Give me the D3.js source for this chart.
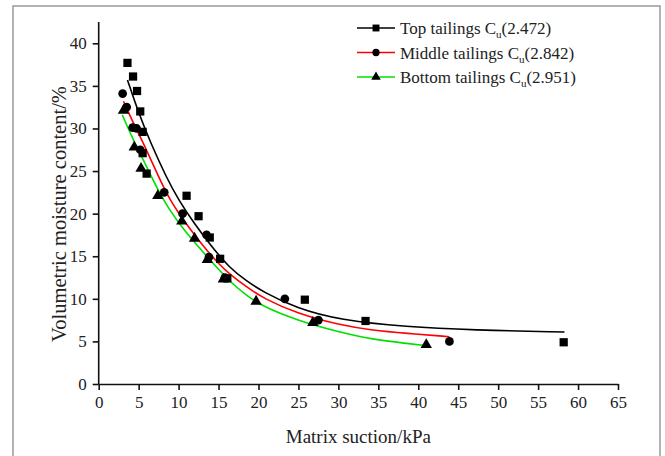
<!DOCTYPE html>
<html>
<head>
<meta charset="utf-8">
<script src="https://cdn.jsdelivr.net/npm/d3@7"></script>
<style>
  body { margin: 0; background: #fff; }
  svg { display: block; }
  text { font-family: "Liberation Serif", "DejaVu Serif", serif; fill: #222; }
</style>
</head>
<body>
<div id="chart"></div>
<script>
// measured points, [suction kPa, moisture %]
const topPts = [[3.6,37.7],[4.3,36.1],[4.8,34.4],[5.2,32.0],[5.5,29.6],[5.5,27.1],[6.0,24.7],
  [11.0,22.1],[12.5,19.7],[13.9,17.2],[15.2,14.7],[16.1,12.4],[25.8,9.9],[33.4,7.4],[58.2,4.9]];
const midPts = [[3.0,34.1],[3.5,32.5],[4.25,30.1],[4.75,30.0],[5.2,27.5],[8.2,22.5],[10.5,20.0],
  [13.5,17.5],[13.8,14.9],[15.8,12.5],[23.3,10.0],[27.5,7.5],[43.9,5.0]];
const botPts = [[3.1,32.1],[4.45,27.8],[5.3,25.3],[7.4,22.1],[10.4,19.1],[12.0,17.1],[13.6,14.6],
  [15.6,12.3],[19.7,9.7],[26.8,7.2],[41.0,4.6]];

// fitted curves
const topFit = [[3.6,35.7],[5,31.8],[6.5,28.3],[8.5,24.2],[10,21.6],[12,18.8],[14,16.3],[16.4,13.6],
  [18.5,12.1],[20.6,10.8],[24.75,8.9],[30.2,7.5],[38.5,6.7],[46.8,6.34],[58.3,6.1]];
const midFit = [[3.1,33.2],[4.5,30.3],[5.6,28.3],[7.5,24.3],[8.9,21.6],[11,18.7],[13,16.3],[15,14.1],
  [16.4,12.9],[18.5,11.4],[20.6,10.06],[24.75,8.3],[30.2,6.9],[34.3,6.3],[38.5,5.95],[43.9,5.55]];
const botFit = [[2.95,31.6],[4.3,28.7],[5.6,26.3],[8,21.6],[10,18.9],[12,16.6],[14,14.5],[16.4,12.0],
  [18.5,10.4],[20.6,9.07],[24.75,7.5],[30.2,6.07],[34.3,5.24],[38.5,4.77],[41.0,4.5]];

const seriesNames = ["Top tailings C", "Middle tailings C", "Bottom tailings C"];
const cuValues = ["(2.472)", "(2.842)", "(2.951)"];
const xTicks = d3.range(0, 66, 5);
const yTicks = d3.range(0, 41, 5);

const width = 665, height = 456,
  margin = ({ top: 22, right: 47, bottom: 72, left: 98.7 });

const x = d3.scaleLinear()
  .domain([0, 65])
  .range([margin.left, width - margin.right]);

const y = d3.scaleLinear()
  .domain([0, 40])
  .range([384, 43.3]);

const svg = d3.select("#chart")
  .append("svg")
  .attr("width", width)
  .attr("height", height)
  .attr("viewBox", [0, 0, width, height]);

// outer frame
svg.append("rect")
  .attr("x", 13).attr("y", 6)
  .attr("width", 647).attr("height", 470)
  .attr("fill", "none")
  .attr("stroke", "#999")
  .attr("stroke-width", 1.5);

// x axis
const gx = svg.append("g")
  .attr("transform", `translate(0,${y(0)})`);
gx.call(d3.axisBottom(x).tickValues(d3.range(2.5, 65, 5)).tickSize(3).tickFormat(""));
gx.call(d3.axisBottom(x).tickValues(xTicks).tickSize(6).tickSizeOuter(0).tickPadding(6));
gx.selectAll("text").attr("font-size", 17).attr("font-family", "Liberation Serif");
gx.selectAll("path, line").attr("stroke", "#111").attr("stroke-width", 1.6);

// y axis
const gy = svg.append("g")
  .attr("transform", `translate(${x(0)},0)`);
gy.call(d3.axisLeft(y).tickValues(d3.range(2.5, 42.5, 5)).tickSize(3).tickFormat(""));
gy.call(d3.axisLeft(y).tickValues(yTicks).tickSize(6).tickSizeOuter(0).tickPadding(6));
gy.select(".domain").attr("d", `M0,${y(42.5)}V${y(0)}`);
gy.selectAll("text").attr("font-size", 17).attr("font-family", "Liberation Serif");
gy.selectAll("path, line").attr("stroke", "#111").attr("stroke-width", 1.6);

// axis titles
svg.append("text")
  .attr("x", (x(0) + x(65)) / 2)
  .attr("y", 443)
  .attr("text-anchor", "middle")
  .attr("font-size", 19)
  .text("Matrix suction/kPa");

svg.append("text")
  .attr("transform", `translate(66,214) rotate(-90)`)
  .attr("text-anchor", "middle")
  .attr("font-size", 20.5)
  .text("Volumetric moisture content/%");

const line = d3.line()
  .x(d => x(d[0]))
  .y(d => y(d[1]))
  .curve(d3.curveBasis);

const colors = ["#000", "#ff0000", "#00e000"];
const fits = [topFit, midFit, botFit];
const pts = [topPts, midPts, botPts];
const symbols = [d3.symbolSquare, d3.symbolCircle, d3.symbolTriangle];
const symSize = [68, 60, 56];

fits.forEach((f, i) => {
  svg.append("path")
    .datum(f)
    .attr("d", line)
    .attr("fill", "none")
    .attr("stroke", colors[i])
    .attr("stroke-width", 1.6);
});

pts.forEach((p, i) => {
  svg.append("g")
    .selectAll("path")
    .data(p)
    .join("path")
    .attr("transform", d => `translate(${x(d[0])},${y(d[1])})`)
    .attr("d", d3.symbol(symbols[i], symSize[i]))
    .attr("fill", "#000");
});

// legend
const legend = svg.append("g");
seriesNames.forEach((name, i) => {
  const ly = 28 + i * 24.5;
  legend.append("line")
    .attr("x1", 357).attr("x2", 395)
    .attr("y1", ly).attr("y2", ly)
    .attr("stroke", colors[i])
    .attr("stroke-width", 1.6);
  legend.append("path")
    .attr("transform", `translate(376,${ly})`)
    .attr("d", d3.symbol(symbols[i], symSize[i] * 0.7))
    .attr("fill", "#000");
  const t = legend.append("text")
    .attr("x", 400)
    .attr("y", ly + 6)
    .attr("font-size", 17)
    .attr("font-family", "Liberation Serif");
  t.append("tspan").text(name);
  t.append("tspan").attr("font-size", 11).attr("dy", 4).text("u");
  t.append("tspan").attr("dy", -4).text(cuValues[i]);
});
</script>
</body>
</html>
